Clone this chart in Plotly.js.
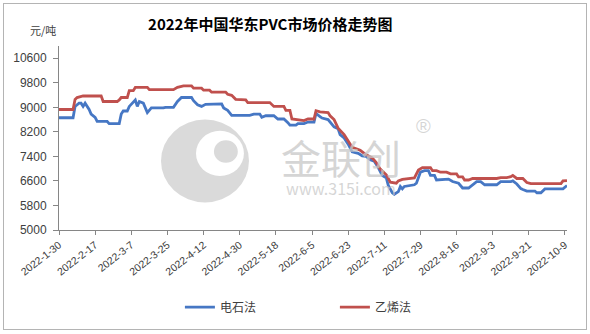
<!DOCTYPE html>
<html>
<head>
<meta charset="utf-8">
<script src="https://cdn.plot.ly/plotly-3.0.1.min.js"></script>
<style>
  html, body { margin: 0; padding: 0; background: #fff; }
  #wrap { position: relative; width: 590px; height: 334px; }
  #chart { width: 590px; height: 334px; }
  #frame { position: absolute; left: 3px; top: 3px; width: 582px; height: 325px; border: 1px solid #b4b4b4; pointer-events: none; }
</style>
</head>
<body>
<div id="wrap"><div id="chart"></div><div id="frame"></div></div>
<script>
// ---- data ----
const titleText = '2022年中国华东PVC市场价格走势图';
const unitText = '元/吨';
const seriesNames = ['电石法', '乙烯法'];

const carbideDates = ['2022-01-30','2022-02-06','2022-02-07','2022-02-09','2022-02-10','2022-02-11','2022-02-12','2022-02-14','2022-02-15','2022-02-17','2022-02-18','2022-02-23','2022-02-24','2022-03-01','2022-03-02','2022-03-03','2022-03-05','2022-03-06','2022-03-09','2022-03-10','2022-03-11','2022-03-13','2022-03-15','2022-03-17','2022-03-23','2022-03-24','2022-03-28','2022-03-30','2022-04-01','2022-04-06','2022-04-07','2022-04-09','2022-04-11','2022-04-13','2022-04-21','2022-04-22','2022-04-24','2022-04-26','2022-05-05','2022-05-07','2022-05-10','2022-05-11','2022-05-13','2022-05-17','2022-05-19','2022-05-22','2022-05-24','2022-05-25','2022-05-28','2022-05-29','2022-06-01','2022-06-03','2022-06-06','2022-06-07','2022-06-09','2022-06-10','2022-06-13','2022-06-16','2022-06-18','2022-06-19','2022-06-21','2022-06-23','2022-06-25','2022-06-28','2022-06-30','2022-07-02','2022-07-04','2022-07-06','2022-07-08','2022-07-10','2022-07-12','2022-07-13','2022-07-15','2022-07-16','2022-07-18','2022-07-19','2022-07-20','2022-07-21','2022-07-26','2022-07-27','2022-07-29','2022-07-31','2022-08-02','2022-08-03','2022-08-05','2022-08-06','2022-08-12','2022-08-14','2022-08-17','2022-08-19','2022-08-22','2022-08-24','2022-08-26','2022-08-28','2022-08-30','2022-09-05','2022-09-07','2022-09-12','2022-09-13','2022-09-15','2022-09-17','2022-09-18','2022-09-20','2022-09-24','2022-09-25','2022-09-27','2022-09-29','2022-10-08','2022-10-10'];
const carbideValues = [8660,8660,9030,9135,9135,9030,9135,8930,8780,8675,8540,8540,8470,8470,8780,8880,8880,9030,9240,9030,9190,9135,8830,8980,8980,9000,9000,9190,9320,9320,9215,9085,9030,9100,9115,8980,8900,8740,8740,8780,8780,8675,8725,8725,8620,8620,8500,8420,8420,8470,8470,8520,8520,8800,8700,8650,8600,8365,8300,8110,8000,7800,7550,7500,7420,7400,7290,7240,7035,6780,6700,6450,6215,6165,6250,6420,6340,6420,6475,6525,6885,6935,6935,6780,6780,6630,6660,6580,6525,6370,6370,6470,6575,6575,6475,6475,6575,6575,6600,6500,6350,6320,6270,6270,6215,6215,6340,6340,6450];

const ethyleneDates = ['2022-01-30','2022-02-06','2022-02-07','2022-02-08','2022-02-11','2022-02-20','2022-02-21','2022-02-28','2022-03-01','2022-03-02','2022-03-05','2022-03-06','2022-03-08','2022-03-09','2022-03-15','2022-03-16','2022-03-28','2022-03-30','2022-04-02','2022-04-06','2022-04-07','2022-04-11','2022-04-12','2022-04-15','2022-04-16','2022-04-23','2022-04-24','2022-04-26','2022-04-28','2022-05-03','2022-05-04','2022-05-15','2022-05-17','2022-05-22','2022-05-23','2022-05-25','2022-05-26','2022-06-01','2022-06-03','2022-06-06','2022-06-07','2022-06-09','2022-06-13','2022-06-14','2022-06-16','2022-06-18','2022-06-21','2022-06-23','2022-06-25','2022-06-29','2022-07-02','2022-07-05','2022-07-07','2022-07-09','2022-07-12','2022-07-14','2022-07-17','2022-07-18','2022-07-20','2022-07-26','2022-07-28','2022-07-30','2022-08-03','2022-08-04','2022-08-06','2022-08-08','2022-08-11','2022-08-13','2022-08-16','2022-08-17','2022-08-19','2022-08-20','2022-08-22','2022-08-24','2022-09-05','2022-09-07','2022-09-10','2022-09-12','2022-09-13','2022-09-15','2022-09-18','2022-09-20','2022-09-22','2022-10-07','2022-10-08','2022-10-10'];
const ethyleneValues = [8930,8930,9260,9320,9370,9370,9190,9190,9240,9320,9320,9545,9545,9650,9650,9575,9575,9650,9700,9700,9625,9625,9560,9560,9495,9495,9425,9390,9260,9240,9155,9155,9030,9030,8900,8900,8620,8570,8620,8620,8890,8850,8830,8725,8600,8320,8110,7905,7700,7600,7450,7350,7200,6985,6800,6560,6525,6600,6650,6700,6955,7035,7035,6935,6935,6885,6885,6830,6830,6730,6730,6630,6630,6680,6680,6710,6710,6740,6780,6680,6680,6550,6510,6510,6600,6610];

const xTickVals = ['2022-01-30','2022-02-17','2022-03-07','2022-03-25','2022-04-12','2022-04-30','2022-05-18','2022-06-05','2022-06-23','2022-07-11','2022-07-29','2022-08-16','2022-09-03','2022-09-21','2022-10-09'];
const xTickText = ['2022-1-30','2022-2-17','2022-3-7','2022-3-25','2022-4-12','2022-4-30','2022-5-18','2022-6-5','2022-6-23','2022-7-11','2022-7-29','2022-8-16','2022-9-3','2022-9-21','2022-10-9'];
const yTickVals = [5000,5800,6600,7400,8200,9000,9800,10600];
const yTickText = ['5000','5800','6600','7400','8200','9000','9800','10600'];

// ---- chart ----
const gray = 'rgba(200,200,200,0.75)';
const traces = [
  { x: carbideDates, y: carbideValues, name: seriesNames[0], type: 'scatter', mode: 'lines',
    line: { color: '#4677c4', width: 2.8 } },
  { x: ethyleneDates, y: ethyleneValues, name: seriesNames[1], type: 'scatter', mode: 'lines',
    line: { color: '#c0504d', width: 2.8 } }
];

const layout = {
  width: 590, height: 334,
  margin: { l: 59, r: 23, t: 46, b: 93 },
  paper_bgcolor: '#ffffff', plot_bgcolor: '#ffffff',
  font: { family: 'Liberation Sans, Noto Sans CJK SC', color: '#404040' },
  showlegend: true,
  title: { text: titleText, font: { family: 'Noto Sans CJK SC', size: 15, color: '#000000', weight: 'bold' },
           x: 0.458, xref: 'container', xanchor: 'center', y: 0.925, yref: 'container', yanchor: 'middle' },
  xaxis: {
    type: 'date', range: ['2022-01-30', '2022-10-10'],
    tickmode: 'array', tickvals: xTickVals, ticktext: xTickText, tickangle: -38,
    tickfont: { size: 10.5, color: '#404040' },
    showline: true, linecolor: '#868686', linewidth: 1,
    ticks: 'outside', ticklen: 4, tickcolor: '#868686',
    showgrid: false, zeroline: false, fixedrange: true
  },
  yaxis: {
    range: [5000, 11000], tickmode: 'array', tickvals: yTickVals, ticktext: yTickText,
    tickfont: { size: 12, color: '#404040' },
    showline: true, linecolor: '#868686', linewidth: 1,
    ticks: 'outside', ticklen: 5, tickcolor: '#868686', ticklabelstandoff: 4,
    showgrid: false, zeroline: false, fixedrange: true
  },
  legend: {
    orientation: 'h', x: 0.238, xanchor: 'left', y: -0.34, yanchor: 'top',
    itemwidth: 30, entrywidth: 110, entrywidthmode: 'pixels',
    font: { family: 'Noto Sans CJK SC', size: 12, color: '#404040' },
    bgcolor: 'rgba(0,0,0,0)'
  },
  annotations: [
    { text: unitText, xref: 'paper', yref: 'paper', x: -0.061, y: 1.143, showarrow: false,
      font: { family: 'Noto Sans CJK SC', size: 11, color: '#404040' } },
    { text: '<span style="font-size:40px">金联创</span><br>www.315i.com',
      xref: 'paper', yref: 'paper', x: 0.555, y: 0.36, yanchor: 'middle', showarrow: false, align: 'center',
      font: { family: 'Noto Sans CJK SC', size: 16, color: gray } },
    { text: '®', xref: 'paper', yref: 'paper', x: 0.736, y: 0.565, showarrow: false,
      font: { family: 'Liberation Sans', size: 20, color: gray } }
  ],
  shapes: [
    { type: 'circle', xref: 'paper', yref: 'paper', x0: 0.2008, x1: 0.374, y0: 0.150, y1: 0.6006,
      fillcolor: 'rgba(205,205,205,0.75)', line: { width: 0 }, layer: 'below' },
    { type: 'circle', xref: 'paper', yref: 'paper', x0: 0.2697, x1: 0.364, y0: 0.293, y1: 0.539,
      fillcolor: '#ffffff', line: { width: 0 }, layer: 'below' },
    { type: 'circle', xref: 'paper', yref: 'paper', x0: 0.305, x1: 0.352, y0: 0.365, y1: 0.488,
      fillcolor: 'rgba(205,205,205,0.75)', line: { width: 0 }, layer: 'below' }
  ]
};

Plotly.newPlot('chart', traces, layout, { staticPlot: true, displayModeBar: false });
</script>
</body>
</html>
